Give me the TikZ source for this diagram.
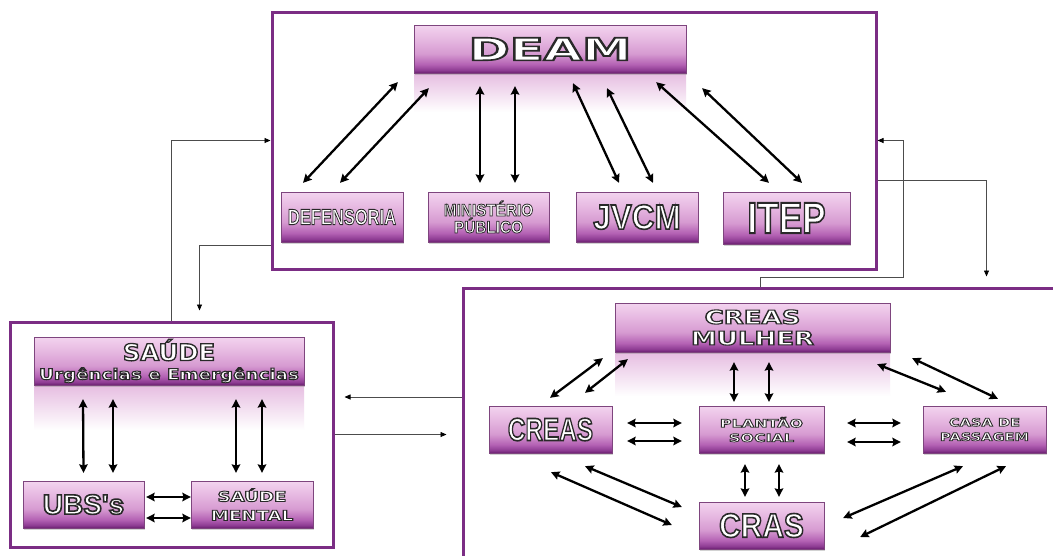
\documentclass[tikz,border=0pt]{standalone}
\usepackage{fontspec}
\usepackage{graphicx}
\usetikzlibrary{arrows.meta,shadows,calc}
\newfontfamily\cfont{Liberation Sans}
\newfontfamily\wfont{DejaVu Sans}
\definecolor{framec}{HTML}{7B2D84}
\definecolor{pd}{HTML}{6A1F70}
\definecolor{pma}{HTML}{8E3C93}
\definecolor{pmb}{HTML}{B462B4}
\definecolor{pmc}{HTML}{D69AD1}
\definecolor{pme}{HTML}{E6B8E1}
\definecolor{pl}{HTML}{F3D4EF}
\definecolor{reflc}{HTML}{E6BDE1}
\pgfdeclareverticalshading{boxshade}{100bp}{color(0bp)=(pd); color(25bp)=(pd); color(28bp)=(pma); color(34bp)=(pmb); color(45bp)=(pmc); color(60bp)=(pme); color(75bp)=(pl); color(100bp)=(pl)}
\newcommand\lab[5]{{#1\bfseries\fontsize{#2}{#2}\selectfont\special{pdf:literal direct 2 Tr #5 w 0.16 0.16 0.16 RG}\scalebox{#3}[1]{#4}\special{pdf:literal direct 0 Tr}}}
\begin{document}
\begin{tikzpicture}[x=1pt,y=-1pt,
  bx/.style 2 args={shading=boxshade, draw=pmb!70!black, line width=0.3pt, inner sep=0pt,
    text=white, align=center, minimum width=#1, minimum height=#2,
    drop shadow={shadow xshift=1.2pt, shadow yshift=-1.5pt, opacity=0.35}},
  frm/.style 2 args={draw=framec, line width=3pt, inner sep=0pt, minimum width=#1, minimum height=#2},
  dbl/.style={line width=2.3pt, {Stealth[length=8.5pt,width=8.5pt,inset=1.2pt]}-{Stealth[length=8.5pt,width=8.5pt,inset=1.2pt]}},
  conn/.style={draw=black!70, line width=0.8pt, -{Triangle[length=6pt,width=5pt,color=black]}},
  refl/.style={top color=reflc, bottom color=white, draw=none}]
\useasboundingbox[fill=white] (0,0) rectangle (1053,555);

% frames
\node[frm={604pt}{257pt}] (tframe) at (574,140.5) {};
\node[frm={323pt}{225pt}] (lframe) at (171.5,434.5) {};
\node[frm={612pt}{292pt}] (rframe) at (769,434) {};

% reflections
\fill[refl] (414,73) rectangle (686,112);
\fill[refl] (34,385) rectangle (304,430);
\fill[refl] (615,352) rectangle (890,396);

% top group
\node[bx={272pt}{48pt}] (deam) at (550,49) {\lab\wfont{31}{1.6}{DEAM}{1.6}};
\node[bx={122pt}{50pt}] (def) at (342,217) {\lab\cfont{22}{0.75}{DEFENSORIA}{0.9}};
\node[bx={121pt}{50pt}, font=\fontsize{10}{17}\selectfont] (min) at (488.5,217) {\lab\cfont{17}{0.9}{MINISTÉRIO}{0.8}\\\lab\cfont{17}{0.9}{PÚBLICO}{0.8}};
\node[bx={122pt}{50pt}] (jvcm) at (637,217) {\lab\cfont{35}{0.9}{JVCM}{1.6}};
\node[bx={127pt}{52pt}] (itep) at (786.5,218) {\lab\cfont{44}{0.8}{ITEP}{1.8}};

% health group
\node[bx={270pt}{48pt}, font=\fontsize{10}{19}\selectfont] (saude) at (169,361) {\lab\wfont{23}{1.06}{SAÚDE}{1.3}\\\lab\wfont{15}{1.22}{Urgências e Emergências}{1}};
\node[bx={121pt}{47pt}] (ubs) at (83.5,504.5) {\lab\cfont{28}{1.0}{UBS\textquotesingle s}{1.6}};
\node[bx={122pt}{47pt}, font=\fontsize{10}{19}\selectfont] (mental) at (252,504.5) {\lab\wfont{14}{1.3}{SAÚDE}{0.9}\\\lab\wfont{14}{1.3}{MENTAL}{0.9}};

% social group
\node[bx={275pt}{49pt}, font=\fontsize{10}{21}\selectfont] (mulher) at (752.5,327.5) {\lab\wfont{19}{1.37}{CREAS}{1.1}\\\lab\wfont{19}{1.37}{MULHER}{1.1}};
\node[bx={123pt}{47pt}] (creas) at (550.5,429.5) {\lab\cfont{32}{0.76}{CREAS}{1.6}};
\node[bx={125pt}{47pt}, font=\fontsize{10}{14.5}\selectfont] (plantao) at (761.5,429.5) {\lab\wfont{11}{1.45}{PLANTÃO}{0.7}\\\lab\wfont{11}{1.45}{SOCIAL}{0.7}};
\node[bx={123pt}{47pt}, font=\fontsize{10}{14.5}\selectfont] (casa) at (984.5,429.5) {\lab\wfont{11}{1.33}{CASA DE}{0.7}\\\lab\wfont{11}{1.33}{PASSAGEM}{0.7}};
\node[bx={125pt}{47pt}] (cras) at (761.5,525.5) {\lab\cfont{34}{0.88}{CRAS}{1.6}};

% top arrows
\draw[dbl] ([shift={(-39,-9)}]def.north) -- ([shift={(-16,9)}]deam.south west);
\draw[dbl] ([shift={(-2,-9)}]def.north) -- ([shift={(15,15)}]deam.south west);
\draw[dbl] ([shift={(-8.5,-9)}]min.north) -- ([shift={(-70,13)}]deam.south);
\draw[dbl] ([shift={(26.5,-9)}]min.north) -- ([shift={(-35,13)}]deam.south);
\draw[dbl] ([shift={(-18,-9)}]jvcm.north) -- ([shift={(23,10)}]deam.south);
\draw[dbl] ([shift={(16,-9)}]jvcm.north) -- ([shift={(57,15)}]deam.south);
\draw[dbl] ([shift={(-17.5,-9)}]itep.north) -- ([shift={(-30,9)}]deam.south east);
\draw[dbl] ([shift={(15.5,-9)}]itep.north) -- ([shift={(16,15)}]deam.south east);

% health arrows
\draw[dbl] ([shift={(0,-8)}]ubs.north) -- ([shift={(-86,14)}]saude.south);
\draw[dbl] ([shift={(29.5,-8)}]ubs.north) -- ([shift={(-56,14)}]saude.south);
\draw[dbl] ([shift={(-16,-8)}]mental.north) -- ([shift={(67,14)}]saude.south);
\draw[dbl] ([shift={(10,-8)}]mental.north) -- ([shift={(93,14)}]saude.south);
\draw[dbl] ([shift={(2,-7.5)}]ubs.east) -- ([shift={(0,-7.5)}]mental.west);
\draw[dbl] ([shift={(2,13.5)}]ubs.east) -- ([shift={(0,13.5)}]mental.west);

% social arrows
\draw[dbl] ([shift={(-0.5,-8)}]creas.north) -- ([shift={(-12,6)}]mulher.south west);
\draw[dbl] ([shift={(34.5,-13)}]creas.north) -- ([shift={(13,7)}]mulher.south west);
\draw[dbl] ([shift={(-27.5,-4)}]plantao.north) -- ([shift={(-18.5,10)}]mulher.south);
\draw[dbl] ([shift={(7.5,-4)}]plantao.north) -- ([shift={(16.5,10)}]mulher.south);
\draw[dbl] ([shift={(-13,12)}]mulher.south east) -- ([shift={(-38.5,-14)}]casa.north);
\draw[dbl] ([shift={(22,6)}]mulher.south east) -- ([shift={(13.5,-7)}]casa.north);
\draw[dbl] ([shift={(15,-6.5)}]creas.east) -- ([shift={(-17,-6.5)}]plantao.west);
\draw[dbl] ([shift={(15,11.5)}]creas.east) -- ([shift={(-17,11.5)}]plantao.west);
\draw[dbl] ([shift={(23,-6.5)}]plantao.east) -- ([shift={(-22,-6.5)}]casa.west);
\draw[dbl] ([shift={(23,12.5)}]plantao.east) -- ([shift={(-22,12.5)}]casa.west);
\draw[dbl] ([shift={(-16.5,11)}]plantao.south) -- ([shift={(-16.5,-5)}]cras.north);
\draw[dbl] ([shift={(17.5,11)}]plantao.south) -- ([shift={(17.5,-5)}]cras.north);
\draw[dbl] ([shift={(0.5,19)}]creas.south) -- ([shift={(-27,-0.5)}]cras.west);
\draw[dbl] ([shift={(34.5,13)}]creas.south) -- ([shift={(-17,-18.5)}]cras.west);
\draw[dbl] ([shift={(-21.5,13)}]casa.south) -- ([shift={(19,-7.5)}]cras.east);
\draw[dbl] ([shift={(21.5,13)}]casa.south) -- ([shift={(36,11.5)}]cras.east);

% connectors between groups
\draw[conn] (lframe.north) |- (tframe.west);
\draw[conn] ($(tframe.south west)+(0,-25)$) -| ($(lframe.north west)+(191,-10)$);
\draw[conn, shorten >=10pt] ($(rframe.west)+(0,-37)$) -- ($(rframe.west -| lframe.east)+(0,-37)$);
\draw[conn, shorten >=15pt] (lframe.east) -- (lframe.east -| rframe.west);
\draw[conn] ($(rframe.north west)+(299,0)$) -- ++(0,-9) -- ++(143,0) |- (tframe.east);
\draw[conn] ($(tframe.east)+(0,39.5)$) -| ($(rframe.north west)+(525,-10)$);
\end{tikzpicture}
\end{document}
